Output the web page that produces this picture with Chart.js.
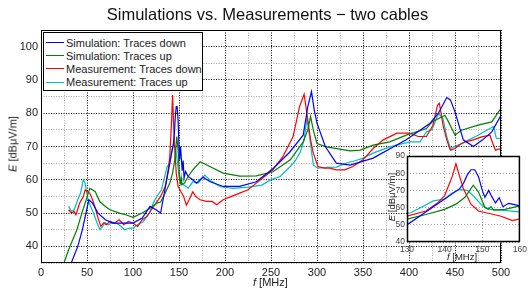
<!DOCTYPE html>
<html lang="en">
<head>
    <meta charset="UTF-8">
    <title>Simulations vs. Measurements - two cables</title>
    <script src="https://cdn.jsdelivr.net/npm/chart.js@4"></script>
    <style>
        body { margin: 0; background: #fff; }
        #wrap { position: relative; width: 530px; height: 288px; font-family: "Liberation Sans", Arial, Helvetica, sans-serif; color: #222; }
        #main { position: absolute; left: 0; top: 0; }
        #inset { position: absolute; left: 380px; top: 148px; }
        .txt { position: absolute; white-space: nowrap; line-height: 1; }
        .rot { transform: translate(-50%, -50%) rotate(-90deg); }
        #title { left: 0; width: 535px; top: 6px; text-align: center; font-size: 16.5px; color: #111; }
        #legend { position: absolute; left: 43px; top: 32px; width: 158px; height: 54px; border: 1px solid #000; background: #fff; padding-top: 3px; font-size: 11px; }
        #legend .row { display: flex; align-items: center; height: 13.2px; }
        #legend .swatch { width: 18px; height: 0; border-top: 1.3px solid; margin-left: 2px; margin-right: 2px; }
    </style>
</head>
<body>
<div id="wrap">
    <canvas id="main" width="530" height="288"></canvas>
    <div class="txt" id="title">Simulations vs. Measurements − two cables</div>
    <div class="txt rot" style="left:13px; top:144px; font-size:11px;"><i>E</i> [dBμV/m]</div>
    <div class="txt" style="left:253px; top:277px; font-size:11px;"><i>f</i> [MHz]</div>
    <div id="legend"></div>
    <canvas id="inset" width="150" height="116"></canvas>
    <div class="txt rot" style="left:392px; top:197px; font-size:9.5px;"><i>E</i> [dBμV/m]</div>
    <div class="txt" style="left:447px; top:252px; font-size:9.5px;"><i>f</i> [MHz]</div>
</div>

<script>
    // Simulation: Traces down
    const simDownF = [25, 30, 40, 45, 52, 56, 62, 70, 78, 90, 100, 110, 118.5, 125, 130, 135, 140, 144, 145, 146, 147, 148, 149, 150, 150.7, 151.7, 152.5, 153.5, 154.5, 155.5, 157, 158, 160, 165, 169, 176, 184, 198, 216, 234, 252, 270, 285, 290, 294, 297, 300, 309, 321, 336, 361, 397, 423, 432, 441, 445, 450, 459, 470, 480, 490, 500];
    const simDownE = [29, 33, 40, 45, 54, 53, 50, 48, 47, 47, 47, 48.5, 52, 51, 50, 57.5, 65, 71, 74, 79, 82, 82, 78, 70, 66, 70, 66.5, 62.7, 65.8, 60.5, 62.5, 62, 61, 60, 59, 60.8, 59.4, 58, 58, 59.4, 63.3, 68.2, 73.4, 82, 86.5, 81, 77, 70, 65, 64.4, 66.5, 72, 77, 80, 84.7, 84, 80.4, 72, 70, 72, 74.4, 79.4];

    // Simulation: Traces up
    const simUpF = [20, 25, 30, 39, 45, 48, 53, 56, 59, 64, 70, 75, 86, 92, 100, 110, 118, 126, 130, 135, 140, 143, 145.4, 147.6, 149, 150.7, 151.6, 152.3, 153, 156, 160, 165, 173, 184, 198, 216, 234, 252, 271, 285, 290, 293, 296, 300, 310, 336, 347, 361, 379, 397, 419, 425, 439, 443, 450, 457, 475, 490, 500];
    const simUpE = [29, 35, 39, 45, 50.5, 53, 57.4, 57, 56.4, 53.4, 52, 51, 49.9, 49.5, 48.7, 50, 51.4, 53, 53.3, 56, 59, 62, 66, 73, 69, 60, 59, 60.6, 58.5, 59, 61, 63, 65.4, 63.9, 62, 61.1, 61.2, 62.4, 66, 71.4, 75, 79, 74.9, 70.9, 69.9, 68.7, 68.9, 70.4, 71.4, 73.4, 75.4, 77.4, 79.4, 77.4, 73.4, 74.9, 76.4, 77.4, 81.5];

    // Measurement: Traces down
    const measDownF = [30, 33, 36, 38, 42, 46, 48, 50, 53, 56, 59, 62, 65, 68, 71, 75, 80, 85, 90, 95, 100, 105, 110, 115, 120, 125, 130, 135, 138, 140, 142, 143, 144, 145, 147, 149, 151, 155, 158, 161, 165, 168, 173, 180, 186, 191, 198, 207, 216, 225, 234, 243, 252, 263, 274, 281, 286, 290, 293, 296, 301, 308, 314, 321, 330, 339, 350, 361, 372, 387, 401, 410, 419, 426, 431, 433, 437, 441, 445, 450, 455, 461, 470, 479, 488, 491, 494, 500];
    const measDownE = [51, 50, 50.5, 49.5, 53, 55, 57, 56.5, 56, 54, 51.5, 48.5, 46, 47, 46.5, 47.5, 47, 48, 46.5, 47.5, 47, 46, 48, 49, 51, 53, 55, 58, 62.5, 67, 78, 85.5, 78, 71, 62, 58, 57, 55, 52.4, 54, 56.4, 55, 54, 53.5, 53.5, 52.5, 54, 55, 56, 57, 59, 61, 63, 67, 73, 82, 85.7, 78, 72, 68, 64, 63.5, 63.5, 63, 63, 64, 66, 69.4, 72, 74, 74, 73, 73, 76.4, 82.4, 83, 76.4, 72, 68.9, 69.4, 70.5, 71.4, 72, 72.9, 73.4, 71, 68.9, 69.4];

    // Measurement: Traces up
    const measUpF = [30, 33, 36, 40, 43, 46, 48, 51, 54, 57, 61, 64, 67, 69, 73, 77, 81, 85, 91, 96, 100, 105, 111, 118, 122, 126, 131, 137, 140, 142, 144, 146, 148, 150, 152, 155, 160, 165, 171, 178, 185, 195, 209, 225, 240, 249, 260, 271, 276, 282, 286, 289, 292, 296, 301, 311, 321, 336, 339, 350, 361, 379, 401, 412, 419, 425, 432, 437, 441, 445, 450, 461, 475, 488, 492, 495, 500];
    const measUpE = [52, 50.5, 51, 54, 56, 60, 59, 54, 52, 50, 47, 45, 46, 47.2, 46.5, 47, 47, 46.5, 45, 45.5, 45.5, 46.5, 47.4, 50, 53, 55, 57, 63.9, 65, 68.5, 70.5, 70, 66, 61, 59, 58.5, 57.5, 59.4, 59, 61.4, 59.6, 57.9, 57.4, 57.8, 58.4, 59.9, 61, 64, 65.5, 68.4, 72, 78.4, 72.9, 64.4, 63.5, 63.7, 63.8, 65.4, 65.5, 66.5, 68, 69.9, 71.4, 71.4, 74.4, 75, 79.9, 78.4, 73, 69.4, 70, 71.4, 73.4, 75.4, 76, 72.4, 72.4];

    const seriesNames = ['Simulation: Traces down', 'Simulation: Traces up', 'Measurement: Traces down', 'Measurement: Traces up'];
    const seriesColors = ['#0000ff', '#008000', '#ff0000', '#00bfbf'];
    const seriesF = [simDownF, simUpF, measDownF, measUpF];
    const seriesE = [simDownE, simUpE, measDownE, measUpE];

    const FONT = '"Liberation Sans", Arial, Helvetica, sans-serif';

    function makeDatasets() {
        return seriesNames.map((name, s) => ({
            label: name,
            data: seriesF[s].map((f, i) => ({ x: f, y: seriesE[s][i] })),
            borderColor: seriesColors[s],
            borderWidth: 1.2,
            pointRadius: 0,
            tension: 0,
            fill: false
        }));
    }

    // white plot background (inset) and solid box around the plot area
    const boxPlugin = {
        id: 'box',
        beforeDraw(chart, args, opts) {
            if (!opts.fill) return;
            const a = chart.chartArea, ctx = chart.ctx;
            ctx.save();
            ctx.fillStyle = '#fff';
            ctx.fillRect(a.left, a.top, a.right - a.left, a.bottom - a.top);
            ctx.restore();
        },
        afterDraw(chart, args, opts) {
            const a = chart.chartArea, ctx = chart.ctx;
            ctx.save();
            ctx.strokeStyle = '#000';
            ctx.lineWidth = opts.width || 1;
            ctx.strokeRect(a.left + 0.5, a.top + 0.5, a.right - a.left - 1, a.bottom - a.top - 1);
            ctx.restore();
        }
    };

    new Chart(document.getElementById('main'), {
        type: 'line',
        data: { datasets: makeDatasets() },
        plugins: [boxPlugin],
        options: {
            responsive: false,
            animation: false,
            layout: { padding: { left: 0, top: 30, right: 29, bottom: 0 } },
            plugins: {
                legend: { display: false },
                tooltip: { enabled: false },
                box: { fill: false, width: 1 }
            },
            scales: {
                x: {
                    type: 'linear', min: 0, max: 500,
                    ticks: {
                        stepSize: 25, autoSkip: false, maxRotation: 0, padding: 3, color: '#222',
                        font: { family: FONT, size: 11 },
                        callback: v => v % 50 === 0 ? v : ''
                    },
                    grid: { color: c => (c.tick && c.tick.value % 50 === 0) ? '#000' : '#b0b0b0', lineWidth: 1, drawTicks: false },
                    border: { display: false, dash: [1, 1.5] },
                    afterFit: s => { s.height = 25; }
                },
                y: {
                    type: 'linear', min: 35, max: 105,
                    ticks: {
                        stepSize: 5, autoSkip: false, padding: 3, color: '#222',
                        font: { family: FONT, size: 11 },
                        callback: v => v % 10 === 0 ? v : ''
                    },
                    grid: { color: c => (c.tick && c.tick.value % 10 === 0) ? '#000' : '#b0b0b0', lineWidth: 1, drawTicks: false },
                    border: { display: false, dash: [1, 1.5] },
                    afterFit: s => { s.width = 41; }
                }
            }
        }
    });

    new Chart(document.getElementById('inset'), {
        type: 'line',
        data: { datasets: makeDatasets() },
        plugins: [boxPlugin],
        options: {
            responsive: false,
            animation: false,
            layout: { padding: { left: 0, top: 8, right: 9, bottom: 0 } },
            plugins: {
                legend: { display: false },
                tooltip: { enabled: false },
                box: { fill: true, width: 1.5 }
            },
            scales: {
                x: {
                    type: 'linear', min: 130, max: 160,
                    ticks: { stepSize: 10, autoSkip: false, maxRotation: 0, padding: 3, color: '#444', font: { family: FONT, size: 8.5 } },
                    grid: { color: '#a0a0a0', lineWidth: 1, drawTicks: false },
                    border: { display: false, dash: [1, 2] },
                    afterFit: s => { s.height = 22; }
                },
                y: {
                    type: 'linear', min: 40, max: 90,
                    ticks: { stepSize: 10, autoSkip: false, padding: 2, color: '#444', font: { family: FONT, size: 8.5 } },
                    grid: { color: '#a0a0a0', lineWidth: 1, drawTicks: false },
                    border: { display: false, dash: [1, 2] },
                    afterFit: s => { s.width = 27; }
                }
            }
        }
    });

    const legend = document.getElementById('legend');
    seriesNames.forEach((name, s) => {
        const row = document.createElement('div');
        row.className = 'row';
        const sw = document.createElement('span');
        sw.className = 'swatch';
        sw.style.borderTopColor = seriesColors[s];
        const label = document.createElement('span');
        label.textContent = name;
        row.appendChild(sw);
        row.appendChild(label);
        legend.appendChild(row);
    });
</script>
</body>
</html>
